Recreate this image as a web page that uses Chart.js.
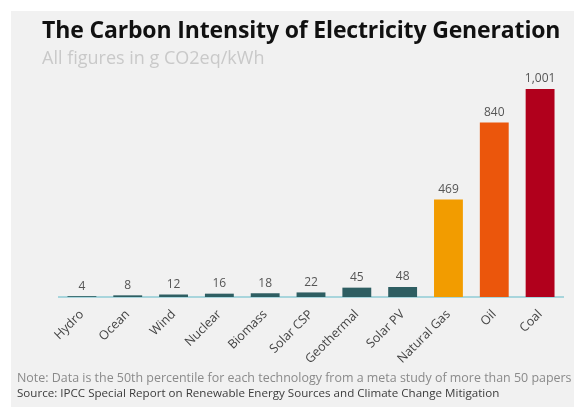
<!DOCTYPE html>
<html lang="en">
<head>
    <meta charset="UTF-8">
    <title>The Carbon Intensity of Electricity Generation</title>
    <script src="https://cdn.jsdelivr.net/npm/chart.js"></script>
    <style>
        html, body {
            margin: 0;
            padding: 0;
            background: #ffffff;
            width: 574px;
            height: 407px;
            overflow: hidden;
            font-family: "Open Sans", sans-serif;
        }
        .panel {
            position: absolute;
            left: 11px;
            top: 11px;
            right: 0;
            bottom: 0;
            background: #f1f1f1;
        }
        #chartBox {
            position: absolute;
            left: 0;
            top: 0;
            width: 574px;
            height: 407px;
        }
        .title {
            position: absolute;
            left: 42px;
            top: 13px;
            font-size: 23px;
            font-weight: bold;
            color: #111;
            letter-spacing: -0.15px;
            white-space: nowrap;
        }
        .subtitle {
            position: absolute;
            left: 42px;
            top: 45px;
            font-size: 18px;
            color: #c9c9c9;
            white-space: nowrap;
        }
        .note {
            position: absolute;
            left: 17px;
            top: 369px;
            font-size: 12.45px;
            color: #8a8a8a;
            white-space: nowrap;
        }
        .source {
            position: absolute;
            left: 17px;
            top: 385px;
            font-size: 11.6px;
            color: #3c3c3c;
            white-space: nowrap;
        }
    </style>
</head>
<body>
    <div class="panel"></div>
    <div id="chartBox"><canvas id="intensidadeChart" width="574" height="407"></canvas></div>
    <div class="title">The Carbon Intensity of Electricity Generation</div>
    <div class="subtitle">All figures in g CO2eq/kWh</div>
    <div class="note">Note: Data is the 50th percentile for each technology from a meta study of more than 50 papers</div>
    <div class="source">Source: IPCC Special Report on Renewable Energy Sources and Climate Change Mitigation</div>

    <script>
        // Dados (g CO2eq/kWh)
        const tecnologias = ['Hydro', 'Ocean', 'Wind', 'Nuclear', 'Biomass', 'Solar CSP', 'Geothermal', 'Solar PV', 'Natural Gas', 'Oil', 'Coal'];
        const intensidade = [4, 8, 12, 16, 18, 22, 45, 48, 469, 840, 1001];
        const coresBarras = ['#2e5e62', '#2e5e62', '#2e5e62', '#2e5e62', '#2e5e62', '#2e5e62', '#2e5e62', '#2e5e62', '#f29c00', '#eb560c', '#b1001c'];

        // rótulos de valor acima das barras
        const rotulosValor = {
            id: 'rotulosValor',
            afterDatasetsDraw(chart) {
                const ctx = chart.ctx;
                const meta = chart.getDatasetMeta(0);
                ctx.save();
                ctx.font = '12px "Open Sans"';
                ctx.fillStyle = '#555';
                ctx.textAlign = 'center';
                ctx.textBaseline = 'bottom';
                meta.data.forEach(function(bar, i) {
                    ctx.fillText(intensidade[i].toLocaleString('en-US'), bar.x, bar.y - 4);
                });
                ctx.restore();
            }
        };

        const ctx = document.getElementById('intensidadeChart').getContext('2d');
        const intensidadeChart = new Chart(ctx, {
            type: 'bar',
            data: {
                labels: tecnologias,
                datasets: [{
                    data: intensidade,
                    backgroundColor: coresBarras,
                    borderWidth: 0,
                    barPercentage: 0.63,
                    categoryPercentage: 1.0
                }]
            },
            options: {
                responsive: false,
                animation: false,
                layout: {
                    padding: { left: 59, right: 11, top: 75, bottom: 0 }
                },
                plugins: {
                    legend: { display: false },
                    tooltip: { enabled: false }
                },
                scales: {
                    x: {
                        grid: { display: false },
                        border: { display: true, color: '#a8d5dc', width: 2 },
                        ticks: {
                            color: '#444',
                            font: { family: 'Open Sans', size: 12.5 },
                            minRotation: 45,
                            maxRotation: 45,
                            padding: 2
                        },
                        afterFit: function(scale) {
                            scale.height = 110;
                        }
                    },
                    y: {
                        display: false,
                        min: 0,
                        max: 1068
                    }
                }
            },
            plugins: [rotulosValor]
        });
    </script>
</body>
</html>
